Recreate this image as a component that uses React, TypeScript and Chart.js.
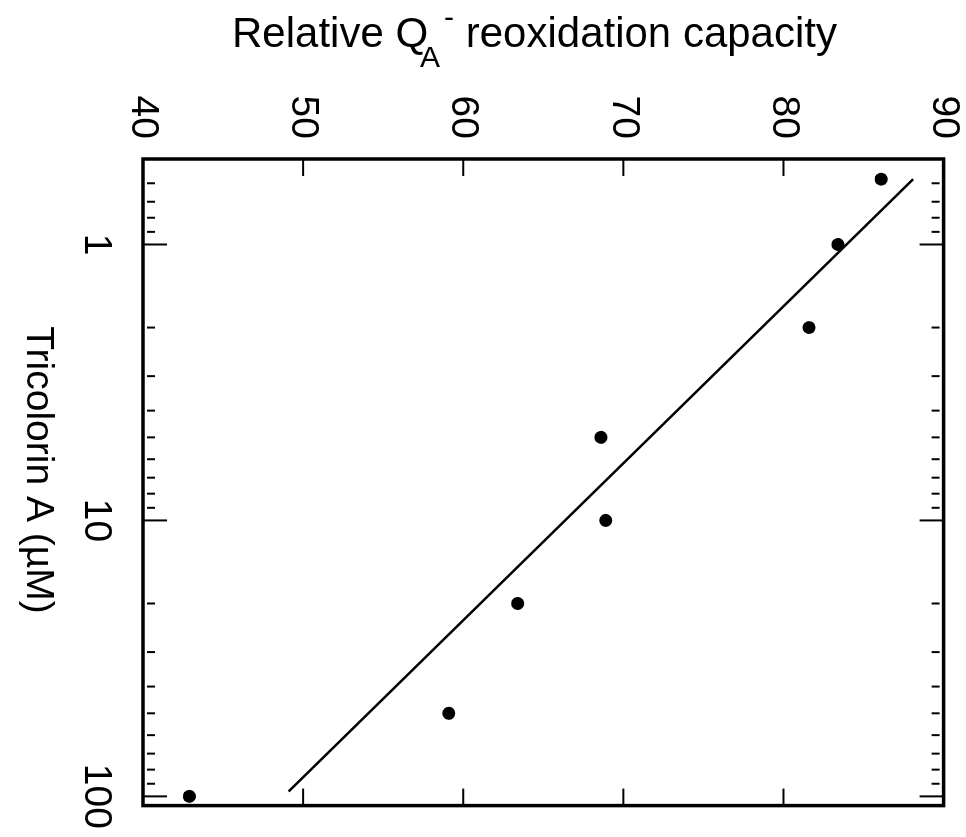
import React, { useEffect, useRef } from 'react';
import { Chart, registerables } from 'chart.js';

Chart.register(...registerables);

const FONT = '"Liberation Sans", Arial, Helvetica, sans-serif';

// Tricolorin A concentration (µM) and relative QA- reoxidation capacity
const concValues = [0.58, 1, 2, 5, 10, 20, 50, 100];
const capacityValues = [86.1, 83.4, 81.6, 68.6, 68.9, 63.4, 59.1, 42.9];

// regression line end points
const fitConc = [0.58, 96];
const fitCapacity = [88.1, 49.1];

const valueTicks = [40, 50, 60, 70, 80, 90];
const valueInnerTicks = [50, 60, 70, 80];
const concMajorTicks = [1, 10, 100];
const concMinorTicks = [0.6, 0.7, 0.8, 0.9, 2, 3, 4, 5, 6, 7, 8, 9, 20, 30, 40, 50, 60, 70, 80, 90];

const valueTitle = ['Relative Q', 'A', '-', ' reoxidation capacity'];
const concTitle = 'Tricolorin A (\u00B5M)';

// canvas is drawn unrotated, then turned 90° clockwise; part of it falls outside the 966x837 view
const CW = 853;
const CH = 987;

export default function App() {
  const ref = useRef<HTMLCanvasElement>(null);

  useEffect(() => {
    const canvas = ref.current!;
    const framePlugin = {
      id: 'frame',
      afterDraw(chart: any) {
        const ctx = chart.ctx as CanvasRenderingContext2D;
        const a = chart.chartArea;
        const xs = chart.scales.x;
        const ys = chart.scales.y;
        const seg = (x1: number, y1: number, x2: number, y2: number) => {
          ctx.beginPath();
          ctx.moveTo(x1, y1);
          ctx.lineTo(x2, y2);
          ctx.stroke();
        };
        ctx.save();
        ctx.strokeStyle = '#000';
        ctx.lineWidth = 3.5;
        ctx.strokeRect(a.left, a.top, a.right - a.left, a.bottom - a.top);
        ctx.lineWidth = 2;
        for (const v of valueInnerTicks) {
          const y = ys.getPixelForValue(v);
          seg(a.left, y, a.left + 17, y);
          seg(a.right, y, a.right - 17, y);
        }
        for (const c of concMajorTicks) {
          const x = xs.getPixelForValue(c);
          seg(x, a.bottom, x, a.bottom - 24);
          seg(x, a.top, x, a.top + 24);
        }
        for (const c of concMinorTicks) {
          const x = xs.getPixelForValue(c);
          seg(x, a.bottom - 4, x, a.bottom - 12);
          seg(x, a.top + 4, x, a.top + 12);
        }
        // value axis title (rotated)
        ctx.fillStyle = '#000';
        ctx.textAlign = 'left';
        ctx.textBaseline = 'alphabetic';
        ctx.save();
        ctx.translate(47, CH - 232);
        ctx.rotate(-Math.PI / 2);
        ctx.font = `42px ${FONT}`;
        let x = 0;
        ctx.fillText(valueTitle[0], x, 0);
        x += ctx.measureText(valueTitle[0]).width;
        ctx.font = `30px ${FONT}`;
        ctx.fillText(valueTitle[1], x - 8, 20);
        const wA = ctx.measureText(valueTitle[1]).width;
        ctx.fillText(valueTitle[2], x - 8 + wA + 4, -20);
        x += wA + 6;
        ctx.font = `42px ${FONT}`;
        ctx.fillText(valueTitle[3], x, 0);
        ctx.restore();
        // concentration axis title
        ctx.font = `39px ${FONT}`;
        ctx.textAlign = 'center';
        ctx.fillText(concTitle, 470, CH - 27);
        ctx.restore();
      },
    };

    const chart = new Chart(canvas, {
      type: 'scatter',
      data: {
        datasets: [
          {
            label: 'data',
            data: concValues.map((c, i) => ({ x: c, y: capacityValues[i] })),
            backgroundColor: '#000',
            borderColor: '#000',
            pointRadius: 6.5,
            pointBorderWidth: 0,
            showLine: false,
          },
          {
            label: 'fit',
            data: fitConc.map((c, i) => ({ x: c, y: fitCapacity[i] })),
            borderColor: '#000',
            borderWidth: 2.5,
            pointRadius: 0,
            showLine: true,
            fill: false,
          },
        ],
      },
      options: {
        animation: false,
        responsive: false,
        devicePixelRatio: 1,
        layout: { padding: 0 },
        plugins: { legend: { display: false }, tooltip: { enabled: false }, title: { display: false } },
        scales: {
          x: {
            type: 'logarithmic',
            position: 'bottom',
            min: 0.49,
            max: 108,
            grid: { display: false, drawTicks: false, tickLength: 0 },
            border: { display: false },
            afterBuildTicks: (s: any) => {
              s.ticks = concMajorTicks.map((v) => ({ value: v }));
            },
            afterFit: (s: any) => {
              s.height = 143;
            },
            ticks: {
              autoSkip: false,
              maxRotation: 0,
              minRotation: 0,
              padding: 24,
              color: '#000',
              font: { family: FONT, size: 39 },
              callback: (v: any) => String(v),
            },
          },
          y: {
            type: 'linear',
            position: 'left',
            min: 40,
            max: 90,
            grid: { display: false, drawTicks: false, tickLength: 0 },
            border: { display: false },
            afterBuildTicks: (s: any) => {
              s.ticks = valueTicks.map((v) => ({ value: v }));
            },
            afterFit: (s: any) => {
              s.width = 159;
            },
            ticks: {
              padding: 20,
              color: '#000',
              font: { family: FONT, size: 39 },
            },
          },
        },
      },
      plugins: [framePlugin],
    } as any);
    return () => chart.destroy();
  }, []);

  return (
    <div
      style={{
        position: 'fixed',
        left: 0,
        top: 0,
        width: 966,
        height: 837,
        overflow: 'hidden',
        background: '#fff',
      }}
    >
      <canvas
        ref={ref}
        width={CW}
        height={CH}
        style={{
          position: 'absolute',
          left: 0,
          top: 0,
          width: CW,
          height: CH,
          transformOrigin: '0 0',
          transform: `translate(${CH}px, 0px) rotate(90deg)`,
        }}
      />
    </div>
  );
}
